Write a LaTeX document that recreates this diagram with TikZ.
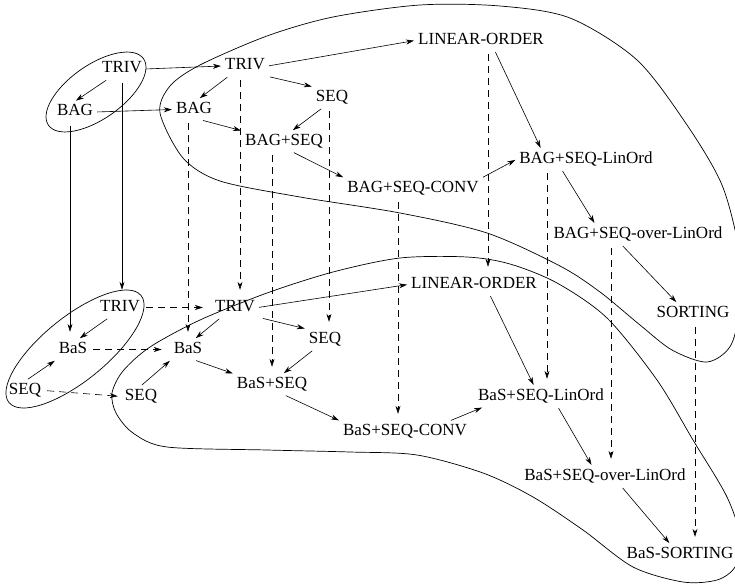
\documentclass[tikz,border=0pt]{standalone}
\usepackage{fontspec}
\setmainfont{Liberation Serif}
\usetikzlibrary{arrows.meta}
\begin{document}
\begin{tikzpicture}[x=1pt,y=-1pt,
  lbl/.style={inner sep=3pt, text height=11.5pt, text depth=3.5pt, font=\fontsize{17}{20}\selectfont},
  arr/.style={-{Stealth[length=8pt,width=5pt,inset=2.5pt]}, line width=0.6pt, shorten >=1pt, shorten <=1pt},
  varr/.style={arr, shorten >=7pt, shorten <=3pt},
  darr/.style={varr, dash pattern=on 7pt off 5pt},
  blob/.style={line width=0.7pt}]
\useasboundingbox (0,0) rectangle (735,585);

% nodes
\node[lbl] (T1) at (122,69) {TRIV};
\node[lbl] (B1) at (75,112) {BAG};
\node[lbl] (T2) at (245,66) {TRIV};
\node[lbl] (B2) at (194,109.5) {BAG};
\node[lbl] (S2) at (332,97.5) {SEQ};
\node[lbl] (BS) at (284,141.5) {BAG+SEQ};
\node[lbl] (BSC) at (413,188.5) {BAG+SEQ-CONV};
\node[lbl] (LO1) at (481,40.5) {LINEAR-ORDER};
\node[lbl] (BSL) at (586,159.5) {BAG+SEQ-LinOrd};
\node[lbl] (BSO) at (638,234.5) {BAG+SEQ-over-LinOrd};
\node[lbl] (SO) at (693,313.5) {SORTING};
\node[lbl] (T3) at (120,307.5) {TRIV};
\node[lbl] (A3) at (73,349.5) {BaS};
\node[lbl] (Q3) at (25,390.5) {SEQ};
\node[lbl] (T4) at (235,307.5) {TRIV};
\node[lbl] (A4) at (188,349.5) {BaS};
\node[lbl] (Q4) at (325,339.5) {SEQ};
\node[lbl] (Q5) at (141,396.5) {SEQ};
\node[lbl] (AS) at (272,384.5) {BaS+SEQ};
\node[lbl] (ASC) at (405,431.5) {BaS+SEQ-CONV};
\node[lbl] (LO2) at (474,284.5) {LINEAR-ORDER};
\node[lbl] (ASL) at (541,396.5) {BaS+SEQ-LinOrd};
\node[lbl] (ASO) at (605,476.5) {BaS+SEQ-over-LinOrd};
\node[lbl] (ASR) at (680,554.5) {BaS-SORTING};

% ellipses and blobs
\draw[blob, rotate around={35:(96,92)}] (96,92) ellipse [x radius=58pt, y radius=27pt];
\draw[blob, rotate around={39:(75,349)}] (75,349) ellipse [x radius=85pt, y radius=32pt];

\draw[blob] plot[smooth cycle] coordinates {
 (160,113) (170,86) (200,65) (267,36) (333,17) (420,5) (500,6) (570,18)
 (637,60) (687,125) (722,185) (739,250) (741,300) (731,345) (707,362)
 (672,350) (640,325) (600,292) (560,266) (487,233) (400,213) (300,197)
 (220,181) (183,158)};

\draw[blob] plot[smooth cycle] coordinates {
 (112,393) (123,371) (150,347) (200,320) (267,293) (333,272) (400,258)
 (467,257) (510,264) (557,283) (607,318) (657,380) (693,440) (727,497)
 (741,540) (735,567) (717,580) (683,582) (633,567) (583,530) (533,497)
 (483,473) (417,455) (350,452) (267,450) (167,447) (133,433) (116,413)};

% top layer edges
\draw[arr] ([xshift=-15pt]T1.south) -- (B1.north);
\draw[arr] (T1.east) -- (T2.west);
\draw[arr] (B1.east) -- (B2.west);
\draw[arr] ([xshift=-17pt]T2.south) -- ([xshift=5pt]B2.north);
\draw[arr] ([xshift=24pt]T2.south) -- (S2.north west);
\draw[arr] (T2.east) -- (LO1.west);
\draw[arr] ([xshift=8pt]B2.south) -- (BS.north west);
\draw[arr] ([xshift=-10pt]S2.south) -- ([xshift=8pt]BS.north);
\draw[arr] ([xshift=9pt]BS.south) -- (BSC.north west);
\draw[arr] (BSC.north east) -- (BSL.west);
\draw[arr] ([xshift=14pt]LO1.south) -- ([xshift=-45pt]BSL.north);
\draw[arr] ([xshift=-24pt]BSL.south) -- ([xshift=-43pt]BSO.north);
\draw[arr] ([xshift=-16pt]BSO.south) -- ([xshift=-16pt]SO.north);

% bottom layer edges
\draw[darr, shorten >=9pt] (T3.east) -- (T4.west);
\draw[darr, shorten >=9pt] (A3.east) -- (A4.west);
\draw[darr, shorten >=4pt] (Q3.east) -- (Q5.west);
\draw[arr] ([xshift=-12pt]T3.south) -- ([xshift=6pt]A3.north);
\draw[arr] ([xshift=2pt]Q3.north) -- (A3.south west);
\draw[arr] ([xshift=-15pt]T4.south) -- ([xshift=7pt]A4.north);
\draw[arr] ([xshift=27pt]T4.south) -- (Q4.north west);
\draw[arr] (T4.east) -- (LO2.west);
\draw[arr] (Q5.north) -- (A4.south west);
\draw[arr] ([xshift=7pt]A4.south) -- (AS.north west);
\draw[arr] ([xshift=-12pt]Q4.south) -- ([xshift=11pt]AS.north);
\draw[arr] ([xshift=13pt]AS.south) -- (ASC.north west);
\draw[arr] ([xshift=45pt]ASC.north) -- ([xshift=8pt]ASL.south west);
\draw[arr] ([xshift=16pt]LO2.south) -- ([xshift=-7pt]ASL.north);
\draw[arr] ([xshift=17pt]ASL.south) -- ([xshift=-13pt]ASO.north);
\draw[arr] ([xshift=17pt]ASO.south) -- ([xshift=-10pt]ASR.north);

% vertical connections
\coordinate (v1) at ([xshift=-5pt]B1.south);
\coordinate (v2) at (T1.south);
\coordinate (v3) at (A4.north);
\coordinate (v4) at ([xshift=-5pt]T2.south);
\coordinate (v5) at (AS.north);
\coordinate (v6) at ([xshift=-3pt]S2.south);
\coordinate (v7) at ([xshift=-15pt]BSC.south);
\coordinate (v8) at ([xshift=7pt]LO1.south);
\coordinate (v9) at ([xshift=6pt]ASL.north);
\coordinate (v10) at ([xshift=6pt]ASO.north);
\coordinate (v11) at ([xshift=2pt]SO.south);

\draw[varr] (v1) -- (v1 |- A3.north);
\draw[varr] (v2) -- (v2 |- T3.north);
\draw[darr] (v3 |- B2.south) -- (v3);
\draw[darr] (v4) -- (v4 |- T4.north);
\draw[darr] (v5 |- BS.south) -- (v5);
\draw[darr] (v6) -- (v6 |- Q4.north);
\draw[darr] (v7) -- (v7 |- ASC.north);
\draw[darr] (v8) -- (v8 |- LO2.north);
\draw[darr] (v9 |- BSL.south) -- (v9);
\draw[darr] (v10 |- BSO.south) -- (v10);
\draw[darr] (v11) -- (v11 |- ASR.north);
\end{tikzpicture}
\end{document}
